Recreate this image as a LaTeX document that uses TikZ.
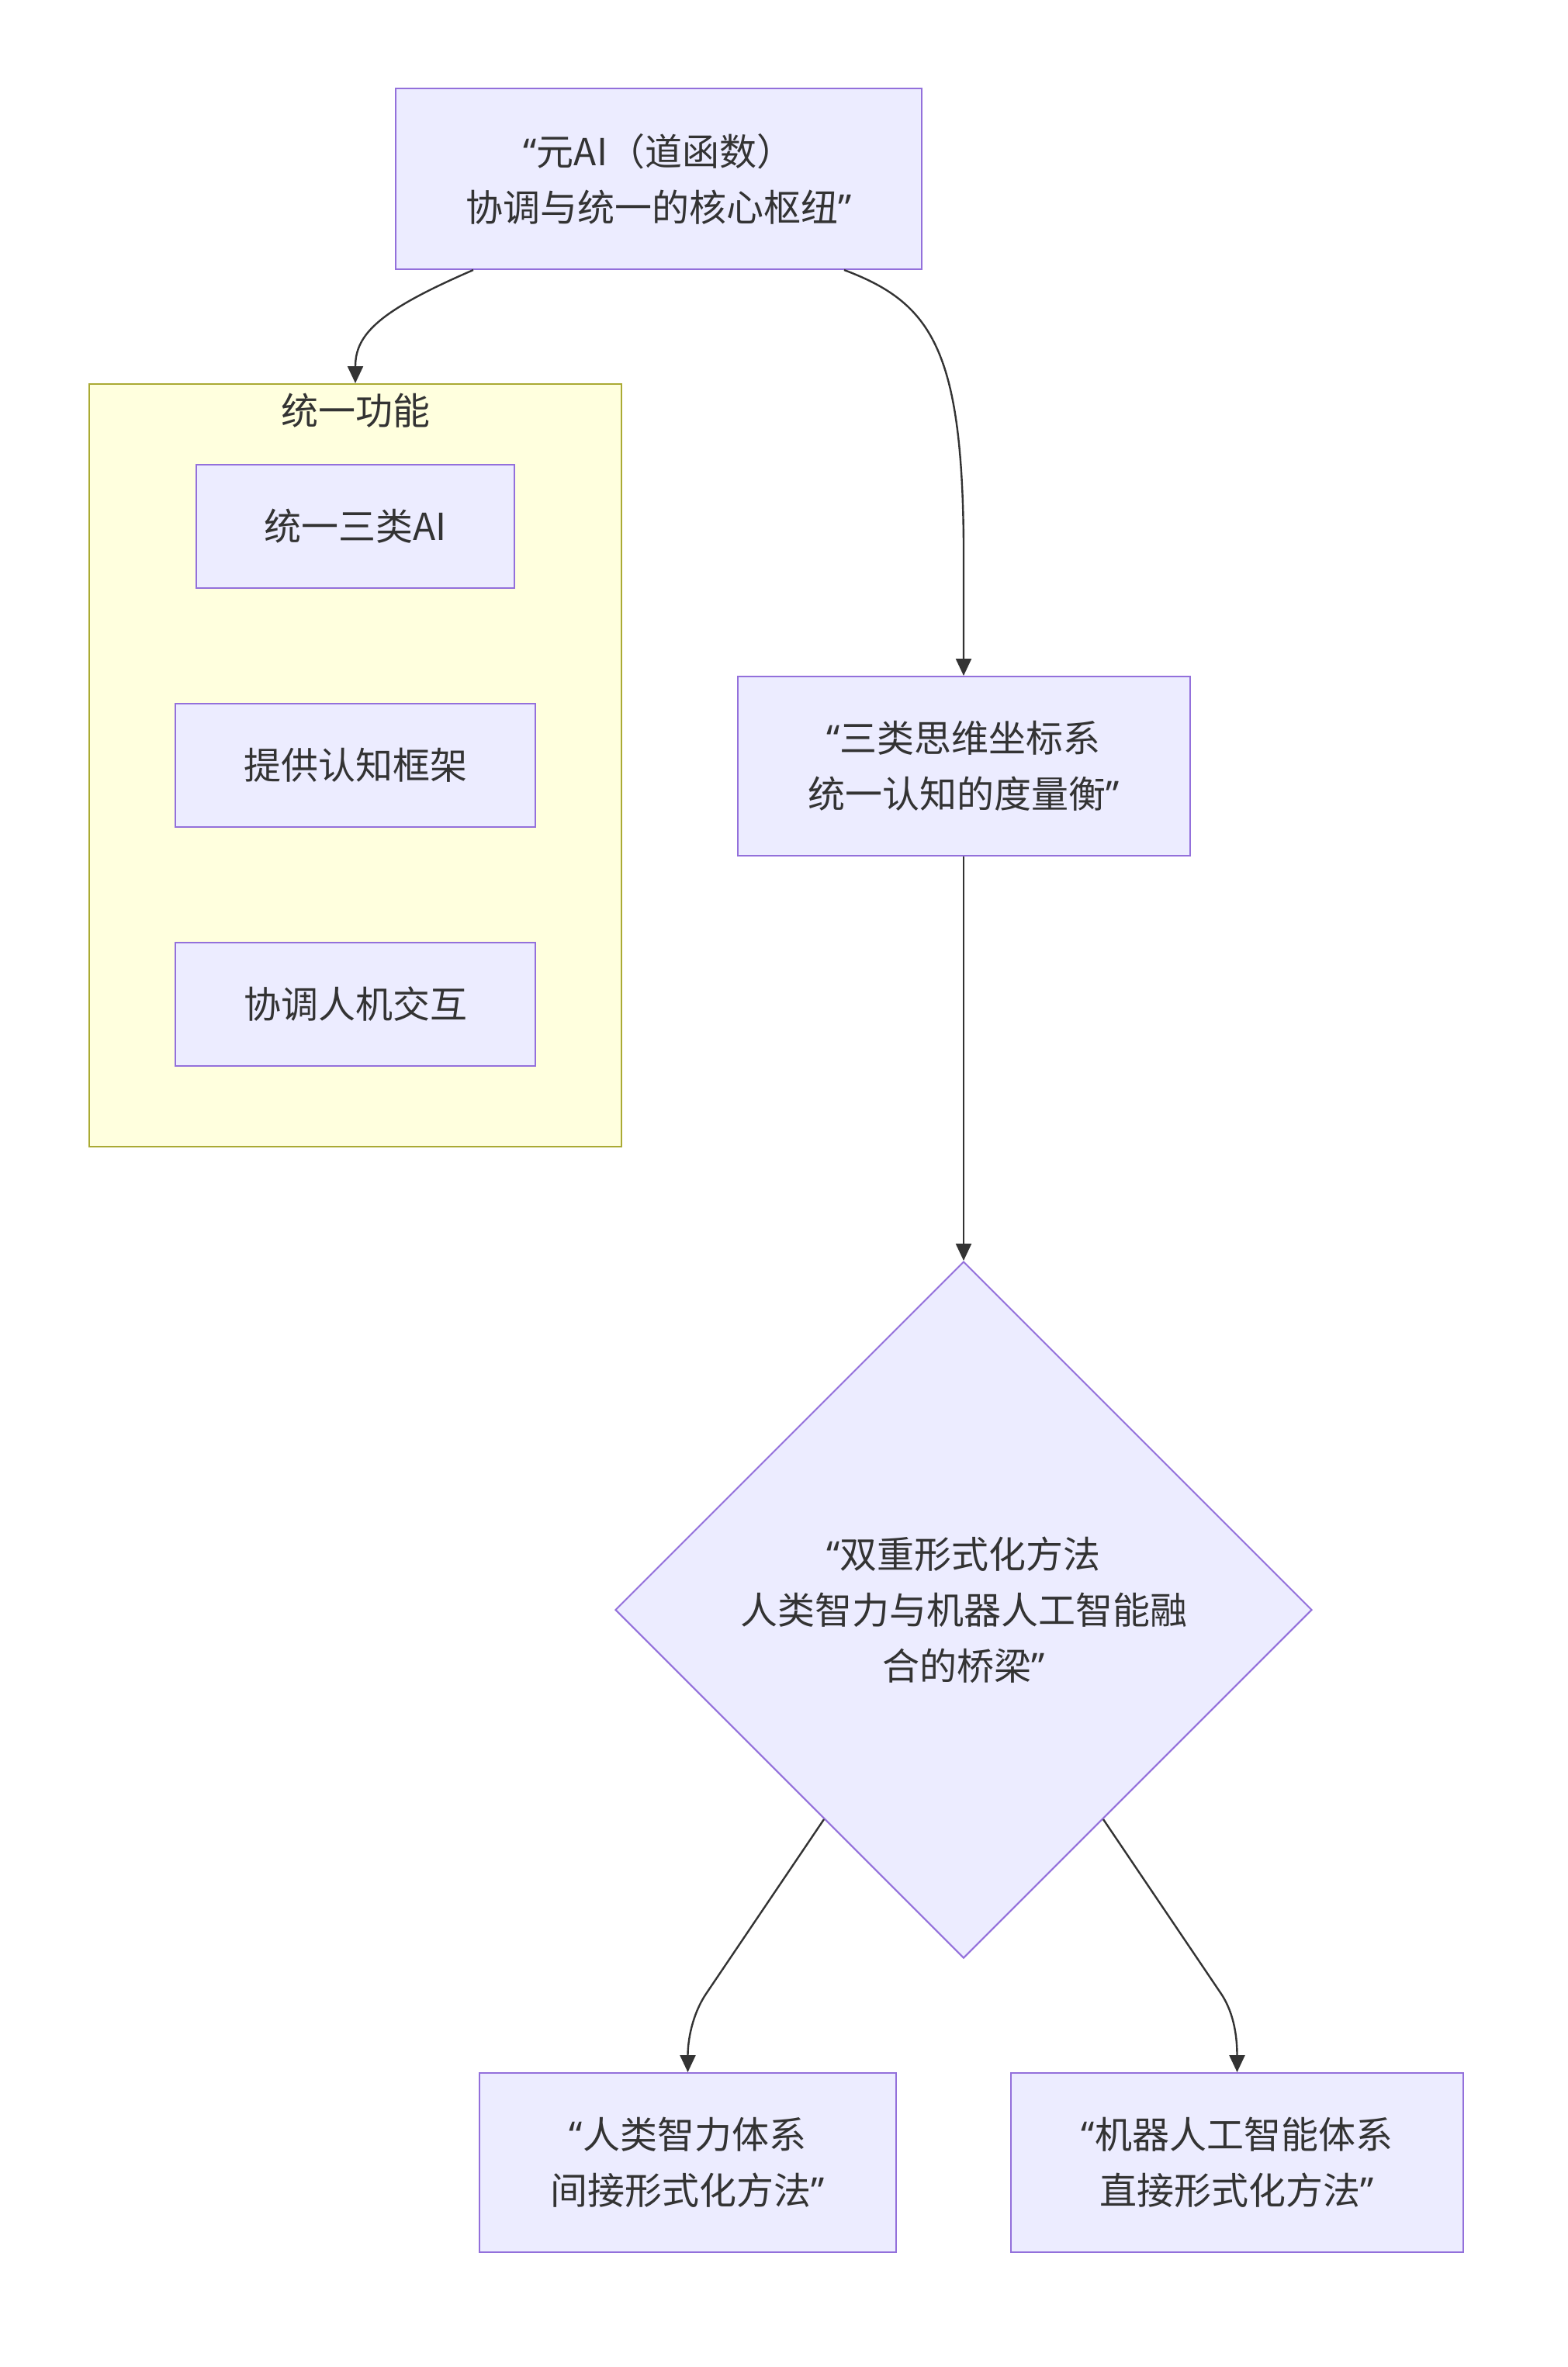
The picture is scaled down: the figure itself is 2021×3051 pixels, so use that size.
\documentclass[tikz,border=0pt]{standalone}
\usepackage{fontspec}
\setmainfont{Noto Sans CJK SC}
\newfontfamily\quotefont{Noto Sans}
\newcommand{\qo}{{\quotefont “}}
\newcommand{\qc}{{\quotefont ”}}
\usetikzlibrary{shapes.geometric,arrows.meta,calc}
\definecolor{boxfill}{HTML}{ECECFF}
\definecolor{boxline}{HTML}{9370DB}
\definecolor{grpfill}{HTML}{FFFFDE}
\definecolor{grpline}{HTML}{AAAA33}
\definecolor{ink}{HTML}{333333}
\tikzset{
  box/.style={draw=boxline, fill=boxfill, line width=1pt, text=ink, align=center, inner sep=0pt},
  edge/.style={draw=ink, line width=1.2pt, -{Triangle[length=11pt,width=10pt]}},
}
\begin{document}
\begin{tikzpicture}[x=0.5pt,y=-0.5pt,font=\fontsize{24}{36}\selectfont]
  \useasboundingbox (0,0) rectangle (2021,3051);
  \fill[white] (0,0) rectangle (2021,3051);
  \node[draw=grpline, fill=grpfill, line width=1pt, minimum width=343pt, minimum height=491.5pt] (grp) at (458,986.5) {};
  \node[text=ink] (grptitle) at (458,529) {统一功能};
  \node[box, minimum width=339pt, minimum height=116.5pt] (top) at (849,230.5) {\qo 元AI（道函数）\\协调与统一的核心枢纽\qc};
  \foreach \y/\w/\n/\t in {678.5/205/f1/统一三类AI, 986.5/232/f2/提供认知框架, 1294.5/232/f3/协调人机交互}
    \node[box, minimum width=\w pt, minimum height=79.5pt] (\n) at (458,\y) {\t};
  \node[box, minimum width=291.5pt, minimum height=115.5pt] (coord) at (1242,987.5) {\qo 三类思维坐标系\\统一认知的度量衡\qc};
  \node[box, shape=diamond, minimum width=449pt, minimum height=449pt] (dia) at (1242,2075) {\qo 双重形式化方法\\人类智力与机器人工智能融\\合的桥梁\qc};
  \node[box, minimum width=268.5pt, minimum height=115.5pt] (human) at (886.5,2787.5) {\qo 人类智力体系\\间接形式化方法\qc};
  \node[box, minimum width=291.5pt, minimum height=115.5pt] (machine) at (1594.5,2787.5) {\qo 机器人工智能体系\\直接形式化方法\qc};
  \draw[edge] ([xshift=-119.5pt]top.south) .. controls (490,400) and (458,430) .. (grp.north);
  \draw[edge] ([xshift=119.5pt]top.south) .. controls (1200,390) and (1240,450) .. (1242,700) -- (coord.north);
  \draw[edge] (coord.south) -- (dia.north);
  \draw[edge] ($(dia.west)!0.6!(dia.south)$) -- (910,2570) .. controls (892,2597) and (886.5,2630) .. (human.north);
  \draw[edge] ($(dia.east)!0.6!(dia.south)$) -- (1574,2570) .. controls (1592,2597) and (1594.5,2630) .. (machine.north);
\end{tikzpicture}
\end{document}
